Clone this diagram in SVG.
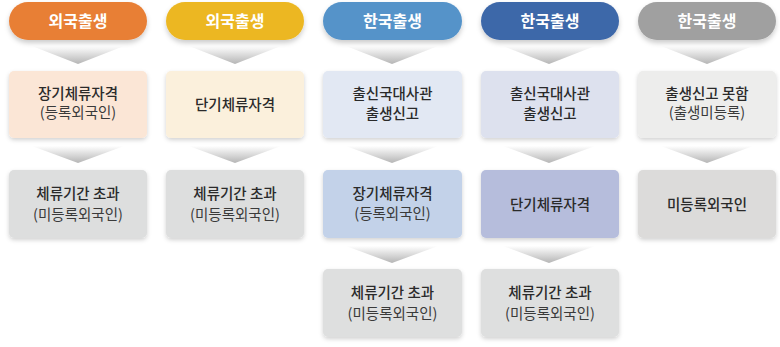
<svg xmlns="http://www.w3.org/2000/svg" width="780" height="347" viewBox="0 0 780 347">
<defs>
<filter id="sh" x="-10%" y="-20%" width="120%" height="150%"><feDropShadow dx="0" dy="2" stdDeviation="2" flood-color="#000" flood-opacity="0.18"/></filter>
<filter id="psh" x="-10%" y="-20%" width="120%" height="160%"><feDropShadow dx="0" dy="3" stdDeviation="2.5" flood-color="#000" flood-opacity="0.2"/></filter>
<linearGradient id="ag" x1="0" y1="0" x2="0" y2="1"><stop offset="0" stop-color="#ffffff"/><stop offset="1" stop-color="#b5b5b5"/></linearGradient>
<style>
.t{font-family:"Noto Sans CJK KR","Noto Sans",sans-serif;font-size:14.5px;text-anchor:middle;fill:#2a2a2a;font-weight:500}
.s{font-family:"Noto Sans CJK KR","Noto Sans",sans-serif;font-size:14.5px;text-anchor:middle;fill:#3a3a3a;font-weight:400}
.p{font-family:"Noto Sans CJK KR","Noto Sans",sans-serif;font-size:16px;text-anchor:middle;fill:#fff;font-weight:700}
.b{filter:url(#sh)}
.pl{filter:url(#psh)}
</style>
</defs>
<g id="connectors" fill="url(#ag)">
<polygon points="32,46 124,46 78,64"/>
<polygon points="189,46 281,46 235,64"/>
<polygon points="346,46 438,46 392,64"/>
<polygon points="503,46 595,46 549,64"/>
<polygon points="661,46 753,46 707,64"/>
<polygon points="32,146 124,146 78,163"/>
<polygon points="189,146 281,146 235,163"/>
<polygon points="346,146 438,146 392,163"/>
<polygon points="503,146 595,146 549,163"/>
<polygon points="661,146 753,146 707,163"/>
<polygon points="346,246 438,246 392,263"/>
<polygon points="503,246 595,246 549,263"/>
</g>
<g id="pill1"><rect class="pl" x="9" y="2" width="138" height="38" rx="19" fill="#E87F36"/><text class="p" x="78" y="27">외국출생</text></g>
<g id="pill2"><rect class="pl" x="166" y="2" width="138" height="38" rx="19" fill="#ECB722"/><text class="p" x="235" y="27">외국출생</text></g>
<g id="pill3"><rect class="pl" x="323" y="2" width="139" height="38" rx="19" fill="#5493C9"/><text class="p" x="392.5" y="27">한국출생</text></g>
<g id="pill4"><rect class="pl" x="481" y="2" width="138" height="38" rx="19" fill="#3D67A9"/><text class="p" x="550" y="27">한국출생</text></g>
<g id="pill5"><rect class="pl" x="638" y="2" width="138" height="38" rx="19" fill="#A0A0A0"/><text class="p" x="707" y="27">한국출생</text></g>

<g id="n1a"><rect class="b" x="9" y="71" width="138" height="67" rx="5" fill="#FBE6D6"/><text class="t" x="78" y="99">장기체류자격</text><text class="s" x="78" y="118">(등록외국인)</text></g>
<g id="n2a"><rect class="b" x="166" y="71" width="138" height="67" rx="5" fill="#FBF0DC"/><text class="t" x="235" y="110">단기체류자격</text></g>
<g id="n3a"><rect class="b" x="323" y="71" width="139" height="67" rx="5" fill="#E2E8F3"/><text class="t" x="392.5" y="99">출신국대사관</text><text class="t" x="392.5" y="119">출생신고</text></g>
<g id="n4a"><rect class="b" x="481" y="71" width="138" height="67" rx="5" fill="#DDE1EE"/><text class="t" x="550" y="99">출신국대사관</text><text class="t" x="550" y="119">출생신고</text></g>
<g id="n5a"><rect class="b" x="638" y="71" width="138" height="67" rx="5" fill="#EDEDEC"/><text class="t" x="707" y="99">출생신고 못함</text><text class="s" x="707" y="118">(출생미등록)</text></g>

<g id="n1b"><rect class="b" x="9" y="170" width="138" height="68" rx="5" fill="#DDDEDE"/><text class="t" x="78" y="199">체류기간 초과</text><text class="s" x="78" y="220">(미등록외국인)</text></g>
<g id="n2b"><rect class="b" x="166" y="170" width="138" height="68" rx="5" fill="#DDDEDE"/><text class="t" x="235" y="199">체류기간 초과</text><text class="s" x="235" y="220">(미등록외국인)</text></g>
<g id="n3b"><rect class="b" x="323" y="170" width="139" height="68" rx="5" fill="#C3D2E9"/><text class="t" x="392.5" y="199">장기체류자격</text><text class="s" x="392.5" y="219">(등록외국인)</text></g>
<g id="n4b"><rect class="b" x="481" y="170" width="138" height="68" rx="5" fill="#B6BDDC"/><text class="t" x="550" y="210">단기체류자격</text></g>
<g id="n5b"><rect class="b" x="638" y="170" width="138" height="68" rx="5" fill="#DCDBDA"/><text class="t" x="707" y="210">미등록외국인</text></g>

<g id="n3c"><rect class="b" x="323" y="269" width="139" height="68" rx="5" fill="#DEDFDF"/><text class="t" x="392.5" y="298">체류기간 초과</text><text class="s" x="392.5" y="319">(미등록외국인)</text></g>
<g id="n4c"><rect class="b" x="481" y="269" width="138" height="68" rx="5" fill="#DEDFDF"/><text class="t" x="550" y="298">체류기간 초과</text><text class="s" x="550" y="319">(미등록외국인)</text></g>
</svg>
